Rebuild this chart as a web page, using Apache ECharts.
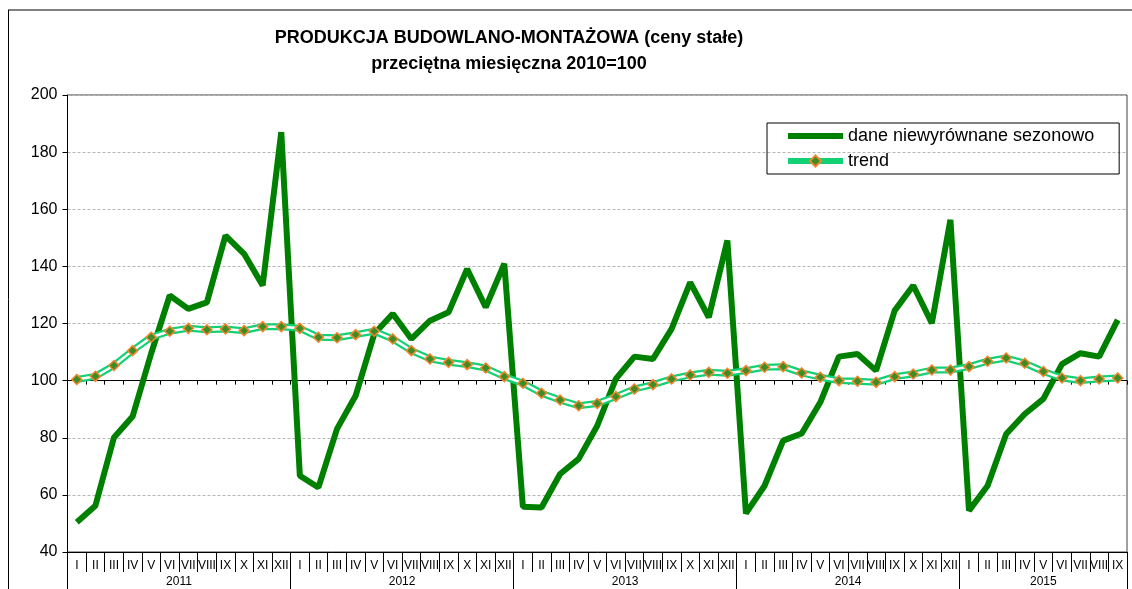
<!DOCTYPE html>
<html>
<head>
<meta charset="utf-8">
<script src="https://cdn.jsdelivr.net/npm/echarts@6/dist/echarts.min.js"></script>
<style>
html, body { margin: 0; padding: 0; background: #fff; }
#chart { width: 1132px; height: 589px; }
</style>
</head>
<body>
<div id="chart"></div>
<script>
const monthNames = ['I', 'II', 'III', 'IV', 'V', 'VI', 'VII', 'VIII', 'IX', 'X', 'XI', 'XII']
const years = ['2011', '2012', '2013', '2014', '2015']
const monthsPerYear = [12, 12, 12, 12, 9]

// dane niewyrównane sezonowo
const rawValues = [
  50.4, 56.2, 80.1, 87.4, 109.5, 129.8, 125.1, 127.4, 150.8, 144.4, 133.3, 187.0,
  66.7, 62.6, 83.1, 94.7, 116.3, 123.4, 114.6, 121.0, 123.9, 139.1, 125.7, 140.9,
  55.8, 55.6, 67.3, 72.6, 84.2, 100.6, 108.4, 107.6, 118.1, 134.4, 122.2, 149.1,
  53.5, 63.2, 79.0, 81.5, 92.4, 108.4, 109.3, 103.5, 124.5, 133.3, 120.1, 156.3,
  54.5, 63.2, 81.3, 88.3, 93.6, 105.8, 109.6, 108.4, 121.3
]
// trend
const trendValues = [
  100.4, 101.5, 105.3, 110.5, 115.2, 117.3, 118.3, 117.8, 118.1, 117.5, 118.9, 118.9,
  118.3, 115.2, 115.0, 116.1, 117.3, 114.6, 110.5, 107.6, 106.4, 105.6, 104.4, 101.4,
  99.1, 95.6, 93.2, 91.2, 92.0, 94.4, 97.1, 98.6, 100.6, 102.0, 102.9, 102.6,
  103.5, 104.7, 104.9, 102.7, 101.2, 100.0, 99.8, 99.4, 101.4, 102.3, 103.7, 103.7,
  104.9, 106.8, 107.9, 106.1, 103.2, 100.9, 100.0, 100.6, 100.9
]

let categories = []
let yearBounds = [0]
let yearMids = []
monthsPerYear.forEach((n, i) => {
  for (let m = 0; m < n; m++) categories.push(monthNames[m])
  let start = yearBounds[yearBounds.length - 1]
  yearMids.push(start + n / 2)
  yearBounds.push(start + n)
})

const font = 'Liberation Sans, Arial, sans-serif'
const gridTop = 95
const gridHeight = 457
const yMin = 40
const yMax = 200
// axis crossing at 100
const crossOffset = -gridHeight * (100 - yMin) / (yMax - yMin)

let myChart = echarts.init(document.getElementById('chart'))
let options = {
  animation: false,
  title: {
    text: 'PRODUKCJA BUDOWLANO-MONTAŻOWA (ceny stałe)\nprzeciętna miesięczna 2010=100',
    left: 504,
    top: 20,
    textAlign: 'center',
    textStyle: {
      fontFamily: font,
      fontSize: 18,
      fontWeight: 'bold',
      color: '#000',
      lineHeight: 26
    }
  },
  legend: {
    orient: 'vertical',
    left: 767,
    top: 123,
    padding: [4, 25, 4, 18],
    itemGap: 7,
    itemWidth: 55,
    itemHeight: 14,
    borderColor: '#000',
    borderWidth: 1,
    textStyle: { fontFamily: font, fontSize: 18, color: '#000' },
    data: [
      { name: 'dane niewyrównane sezonowo', itemStyle: { opacity: 0 }, lineStyle: { width: 6 } },
      { name: 'trend', lineStyle: { color: '#12d174', width: 6 } }
    ]
  },
  graphic: [
    { type: 'line', shape: { x1: 8, y1: 10, x2: 1132, y2: 10 }, style: { stroke: '#7f7f7f', lineWidth: 2 }, silent: true },
    { type: 'line', shape: { x1: 8.5, y1: 10, x2: 8.5, y2: 589 }, style: { stroke: '#000', lineWidth: 1 }, silent: true }
  ],
  grid: {
    left: 67.5,
    right: 5,
    top: gridTop,
    height: gridHeight,
    show: true,
    borderColor: '#404040',
    borderWidth: 1,
    backgroundColor: 'transparent'
  },
  xAxis: [
    {
      type: 'category',
      data: categories,
      boundaryGap: true,
      axisLine: { onZero: false, lineStyle: { color: '#000' } },
      axisTick: { show: true, interval: 0, length: 20, lineStyle: { color: '#000' } },
      axisLabel: { interval: 0, hideOverlap: false, margin: 8, fontFamily: font, fontSize: 12, color: '#000' },
      splitLine: { show: false }
    },
    {
      // rok
      type: 'value',
      position: 'bottom',
      min: 0,
      max: yearBounds[yearBounds.length - 1],
      axisLine: { show: false, onZero: false },
      axisTick: { show: true, length: 37, customValues: yearBounds, lineStyle: { color: '#000' } },
      axisLabel: {
        customValues: yearMids,
        margin: 24,
        fontFamily: font,
        fontSize: 12,
        color: '#000',
        formatter: v => years[yearMids.indexOf(v)]
      },
      splitLine: { show: false }
    },
    {
      // os przecina na 100
      type: 'category',
      data: categories,
      position: 'bottom',
      offset: crossOffset,
      boundaryGap: true,
      axisLine: { onZero: false, lineStyle: { color: '#000' } },
      axisTick: { show: true, interval: 0, length: 4, lineStyle: { color: '#000' } },
      axisLabel: { show: false },
      splitLine: { show: false }
    }
  ],
  yAxis: {
    type: 'value',
    min: yMin,
    max: yMax,
    interval: 20,
    axisLine: { show: true, lineStyle: { color: '#000' } },
    axisTick: { show: true, length: 5, lineStyle: { color: '#000' } },
    axisLabel: { margin: 10, fontFamily: font, fontSize: 16, color: '#000' },
    splitLine: { lineStyle: { color: '#b5b5b5', type: [3, 2] } }
  },
  series: [
    {
      name: 'dane niewyrównane sezonowo',
      type: 'line',
      data: rawValues,
      z: 2,
      symbol: 'none',
      lineStyle: { color: '#008000', width: 6 },
      itemStyle: { color: '#008000' }
    },
    {
      name: 'trendBg',
      type: 'line',
      data: trendValues,
      z: 3,
      silent: true,
      symbol: 'none',
      lineStyle: { color: '#12d174', width: 7 }
    },
    {
      name: 'trend',
      type: 'line',
      data: trendValues,
      z: 4,
      symbol: 'diamond',
      symbolSize: 10,
      lineStyle: { color: '#ffffff', width: 2.5 },
      itemStyle: { color: '#3d8c25', borderColor: '#f5842c', borderWidth: 1.5 }
    }
  ]
}
myChart.setOption(options)
</script>
</body>
</html>
